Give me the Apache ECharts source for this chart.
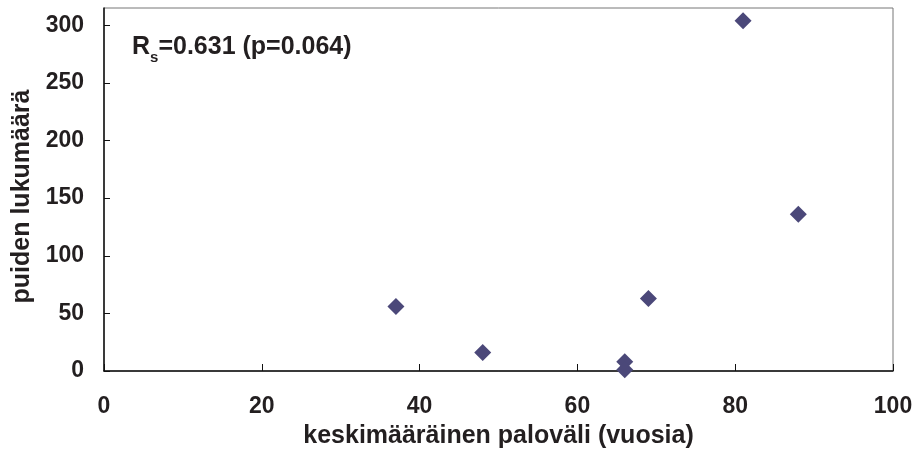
<!DOCTYPE html>
<html>
<head>
<meta charset="utf-8">
<script src="https://cdn.jsdelivr.net/npm/echarts@6/dist/echarts.min.js"></script>
<style>html,body{margin:0;padding:0;background:#fff}#c{width:917px;height:457px}</style>
</head>
<body>
<div id="c"></div>
<script>
var paloVali = [37, 48, 66, 66, 69, 81, 88];
var puidenLukumaara = [56, 16, 8, 1, 63, 304, 136];
var xTitle = 'keskimääräinen paloväli (vuosia)';
var yTitle = 'puiden lukumäärä';
var annotation = { rs: '0.631', p: '0.064' };

var pts = paloVali.map(function (x, i) { return [x, puidenLukumaara[i]]; });
var chart = echarts.init(document.getElementById('c'));
var font = 'Liberation Sans, Arial, sans-serif';
chart.setOption({
  animation: false,
  grid: { left: 104, right: 24, top: 8, bottom: 86, show: true, borderColor: '#777', borderWidth: 1 },
  xAxis: {
    type: 'value', min: 0, max: 100, interval: 20,
    name: xTitle, nameLocation: 'middle', nameGap: 53,
    nameTextStyle: { fontFamily: font, fontWeight: 'bold', fontSize: 25, color: '#231f20' },
    axisLine: { show: true, onZero: false, lineStyle: { color: '#111', width: 1.5 } },
    axisTick: { show: true, inside: true, length: 7, lineStyle: { color: '#111' } },
    axisLabel: { margin: 24, fontFamily: font, fontWeight: 'bold', fontSize: 23, color: '#231f20' },
    splitLine: { show: false }
  },
  yAxis: {
    type: 'value', min: 0, max: 315, interval: 50,
    name: yTitle, nameLocation: 'middle', nameGap: 66,
    nameTextStyle: { fontFamily: font, fontWeight: 'bold', fontSize: 25, color: '#231f20', padding: [0, 14, 0, 0] },
    axisLine: { show: true, onZero: false, lineStyle: { color: '#111', width: 1.5 } },
    axisTick: { show: true, inside: true, length: 6, lineStyle: { color: '#111' } },
    axisLabel: { margin: 20, showMaxLabel: false, fontFamily: font, fontWeight: 'bold', fontSize: 23, color: '#231f20',
      formatter: function (v) { return v % 50 === 0 ? String(v) : ''; } },
    splitLine: { show: false }
  },
  graphic: [{
    type: 'text', left: 132, top: 35,
    style: {
      text: '{a|R}{s|s}{a|=' + annotation.rs + ' (p=' + annotation.p + ')}',
      rich: {
        a: { fontFamily: font, fontWeight: 'bold', fontSize: 25, fill: '#231f20', verticalAlign: 'bottom' },
        s: { fontFamily: font, fontWeight: 'bold', fontSize: 15, fill: '#231f20', verticalAlign: 'bottom', padding: [0, 0, -5, 0] }
      }
    }
  }],
  series: [{
    type: 'scatter', data: pts, symbol: 'diamond', symbolSize: 17,
    itemStyle: { color: '#4b4879', opacity: 1 }
  }]
});
</script>
</body>
</html>
